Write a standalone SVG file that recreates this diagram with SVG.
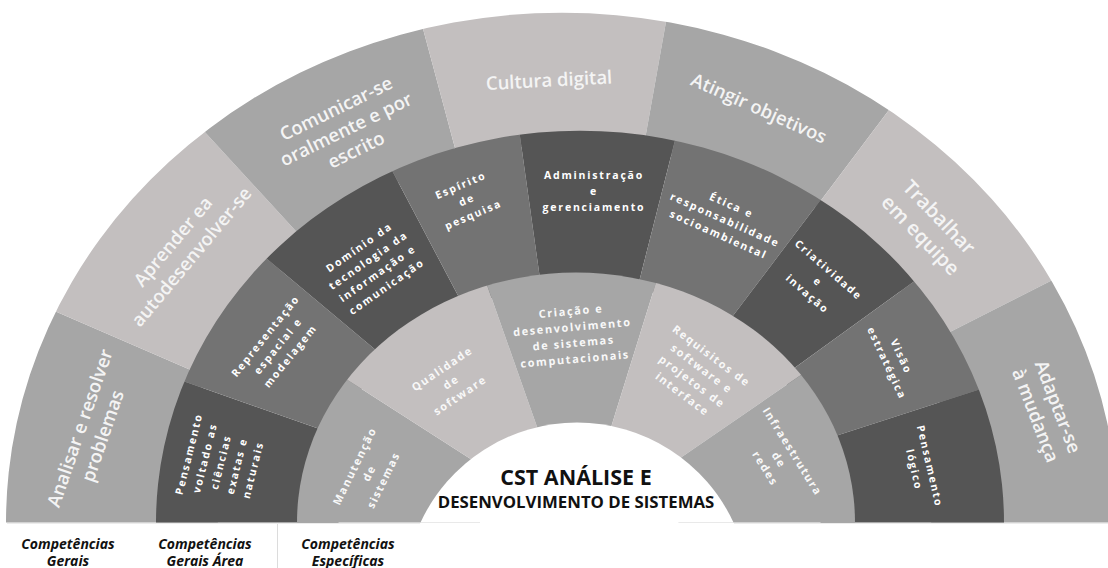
<svg xmlns="http://www.w3.org/2000/svg" width="1108" height="568" viewBox="0 0 1108 568">
<defs>
<style>
.med{fill:#a6a6a6}.lt{fill:#c3bfbf}.dk{fill:#555555}.md{fill:#737373}
.o{font-family:"Open Sans","Liberation Sans",sans-serif;font-weight:600;font-size:18.5px;fill:#f4f4f4;text-anchor:middle}
.m{font-family:"Open Sans","Liberation Sans",sans-serif;font-weight:700;font-size:10.5px;letter-spacing:1.8px;fill:#ffffff;text-anchor:middle}
.i{font-family:"Open Sans","Liberation Sans",sans-serif;font-weight:700;font-size:11px;letter-spacing:1.6px;fill:#f8f8f8;text-anchor:middle}
.c{font-family:"Open Sans","Liberation Sans",sans-serif;font-weight:700;fill:#111111;text-anchor:middle}
.b{font-family:"Open Sans","Liberation Sans",sans-serif;font-weight:700;font-style:italic;font-size:14px;fill:#111111;text-anchor:middle}
</style>
<clipPath id="e0"><path d="M6 522.5 A556 510 0 0 1 1118 522.5 Z"/></clipPath>
<clipPath id="e1"><path d="M156 522.5 A424 392 0 0 1 1004 522.5 Z"/></clipPath>
<clipPath id="e2"><path d="M297 522.5 A279 250 0 0 1 855 522.5 Z"/></clipPath>
</defs>

<g id="outer-ring">
<g id="analisar"><polygon class="med" clip-path="url(#e0)" points="200,374 -1,287 -40,250 -40,540 220,540"/>
<text class="o" transform="translate(91 432) rotate(-71)"><tspan x="0" y="-5.3">Analisar e resolver</tspan><tspan x="0" dy="24">problemas</tspan></text></g>
<g id="aprender"><polygon class="lt" clip-path="url(#e0)" points="200,374 -1,287 169,93 304,240"/>
<text class="o" transform="translate(182 249) rotate(-50)"><tspan x="0" y="-5.3">Aprender ea</tspan><tspan x="0" dy="24">autodesenvolver-se</tspan></text></g>
<g id="comunicar"><polygon class="med" clip-path="url(#e0)" points="304,240 169,93 411,-16 455,148"/>
<text class="o" transform="translate(346 129) rotate(-26)"><tspan x="0" y="-16.3">Comunicar-se</tspan><tspan x="0" dy="23">oralmente e por</tspan><tspan x="0" dy="23">escrito</tspan></text></g>
<g id="cultura"><polygon class="lt" clip-path="url(#e0)" points="455,148 411,-16 674,-23 644,145"/>
<text class="o" transform="translate(549 80) rotate(-3)"><tspan x="0" y="6.7">Cultura digital</tspan></text></g>
<g id="atingir"><polygon class="med" clip-path="url(#e0)" points="644,145 674,-23 913,78 816,207"/>
<text class="o" transform="translate(759 108) rotate(24)"><tspan x="0" y="6.7">Atingir objetivos</tspan></text></g>
<g id="trabalhar"><polygon class="lt" clip-path="url(#e0)" points="816,207 913,78 1086,263 944,335"/>
<text class="o" style="font-size:20px" transform="translate(930 226) rotate(46)"><tspan x="0" y="-5.8">Trabalhar</tspan><tspan x="0" dy="26">em equipe</tspan></text></g>
<g id="adaptar"><polygon class="med" clip-path="url(#e0)" points="944,335 1086,263 1150,240 1150,540 930,540"/>
<text class="o" transform="translate(1047 411) rotate(69)"><tspan x="0" y="-5.3">Adaptar-se</tspan><tspan x="0" dy="24">à mudança</tspan></text></g>
</g>

<g id="middle-ring">
<g id="pensamento-ciencias"><polygon class="dk" clip-path="url(#e1)" points="331,433 153,370.5 100,380 100,540 340,540"/>
<text class="m" transform="translate(221 462) rotate(-76)"><tspan x="0" y="-29.4">Pensamento</tspan><tspan x="0" dy="16.5">voltado as</tspan><tspan x="0" dy="16.5">ciências</tspan><tspan x="0" dy="16.5">exatas e</tspan><tspan x="0" dy="16.5">naturais</tspan></text></g>
<g id="representacao"><polygon class="md" clip-path="url(#e1)" points="331,433 153,370.5 239,235.5 384,357"/>
<text class="m" transform="translate(278 346) rotate(-51)"><tspan x="0" y="-12.4">Representação</tspan><tspan x="0" dy="16">espacial e</tspan><tspan x="0" dy="16">modelagem</tspan></text></g>
<g id="dominio"><polygon class="dk" clip-path="url(#e1)" points="384,357 239,235.5 377,142 463,305"/>
<text class="m" transform="translate(373 267) rotate(-35)"><tspan x="0" y="-20.4">Domínio da</tspan><tspan x="0" dy="16">tecnologia da</tspan><tspan x="0" dy="16">informação e</tspan><tspan x="0" dy="16">comunicação</tspan></text></g>
<g id="espirito"><polygon class="md" clip-path="url(#e1)" points="463,305 377,142 515,101 541,286"/>
<text class="m" transform="translate(467 200) rotate(-23)"><tspan x="0" y="-12.4">Espírito</tspan><tspan x="0" dy="16">de</tspan><tspan x="0" dy="16">pesquisa</tspan></text></g>
<g id="administracao"><polygon class="dk" clip-path="url(#e1)" points="541,286 515,101 683.5,107 638,286"/>
<text class="m" transform="translate(594 191)"><tspan x="0" y="-12.4">Administração</tspan><tspan x="0" dy="16">e</tspan><tspan x="0" dy="16">gerenciamento</tspan></text></g>
<g id="etica"><polygon class="md" clip-path="url(#e1)" points="638,286 683.5,107 844,169 726,325"/>
<text class="m" transform="translate(725 220) rotate(24)"><tspan x="0" y="-12.4">Ética e</tspan><tspan x="0" dy="16">responsabilidade</tspan><tspan x="0" dy="16">socioambiental</tspan></text></g>
<g id="criatividade"><polygon class="dk" clip-path="url(#e1)" points="726,325 844,169 943,260.5 782,377"/>
<text class="m" transform="translate(818 282) rotate(41)"><tspan x="0" y="-12.4">Criatividade</tspan><tspan x="0" dy="16">e</tspan><tspan x="0" dy="16">invação</tspan></text></g>
<g id="visao"><polygon class="md" clip-path="url(#e1)" points="782,377 943,260.5 1012,379 823,440"/>
<text class="m" transform="translate(894 360) rotate(65)"><tspan x="0" y="-4.4">Visão</tspan><tspan x="0" dy="16">estratégica</tspan></text></g>
<g id="pensamento-logico"><polygon class="dk" clip-path="url(#e1)" points="823,440 1012,379 1060,380 1060,540 820,540"/>
<text class="m" transform="translate(922 468) rotate(77)"><tspan x="0" y="-4.4">Pensamento</tspan><tspan x="0" dy="16">lógico</tspan></text></g>
</g>

<g id="inner-ring">
<g id="manutencao"><polygon class="med" clip-path="url(#e2)" points="480,465 318,361 280,360 280,540 480,540"/>
<text class="i" transform="translate(369 473) rotate(-64)"><tspan x="0" y="-12">Manutenção</tspan><tspan x="0" dy="16">de</tspan><tspan x="0" dy="16">sistemas</tspan></text></g>
<g id="qualidade"><polygon class="lt" clip-path="url(#e2)" points="480,465 318,361 474.5,249.5 542,441"/>
<text class="i" transform="translate(451 382) rotate(-34)"><tspan x="0" y="-12">Qualidade</tspan><tspan x="0" dy="16">de</tspan><tspan x="0" dy="16">software</tspan></text></g>
<g id="criacao"><polygon class="med" clip-path="url(#e2)" points="542,441 474.5,249.5 666,250.5 608,437"/>
<text class="i" transform="translate(573 335) rotate(-5)"><tspan x="0" y="-20">Criação e</tspan><tspan x="0" dy="16">desenvolvimento</tspan><tspan x="0" dy="16">de sistemas</tspan><tspan x="0" dy="16">computacionais</tspan></text></g>
<g id="requisitos"><polygon class="lt" clip-path="url(#e2)" points="608,437 666,250.5 826.5,357.5 673,463"/>
<text class="i" transform="translate(697 375) rotate(37)"><tspan x="0" y="-20">Requisitos de</tspan><tspan x="0" dy="16">software e</tspan><tspan x="0" dy="16">projetos de</tspan><tspan x="0" dy="16">interface</tspan></text></g>
<g id="infraestrutura"><polygon class="med" clip-path="url(#e2)" points="673,463 826.5,357.5 870,360 870,540 680,540"/>
<text class="i" transform="translate(779 460) rotate(58)"><tspan x="0" y="-12">Infraestrutura</tspan><tspan x="0" dy="16">de</tspan><tspan x="0" dy="16">redes</tspan></text></g>
</g>

<g id="center">
<path d="M420.5 522.5 A172.5 172.5 0 0 1 733.5 522.5 Z" fill="#ffffff"/>
<text class="c" x="576" y="485" style="font-size:21.5px">CST ANÁLISE E</text>
<text class="c" x="576" y="508" style="font-size:16.8px">DESENVOLVIMENTO DE SISTEMAS</text>
</g>

<g id="guides" stroke-width="1" fill="none">
<line x1="7" y1="523.5" x2="420" y2="523.5" stroke="#ececec"/>
<line x1="734" y1="523.5" x2="1108" y2="523.5" stroke="#ececec"/>
<line x1="277.5" y1="524" x2="277.5" y2="568" stroke="#dcdcdc"/>
</g>

<g id="legend">
<text class="b" x="68" y="549"><tspan x="68">Competências</tspan><tspan x="68" y="566">Gerais</tspan></text>
<text class="b" x="205" y="549"><tspan x="205">Competências</tspan><tspan x="205" y="566">Gerais Área</tspan></text>
<text class="b" x="348" y="549"><tspan x="348">Competências</tspan><tspan x="348" y="566">Específicas</tspan></text>
</g>
</svg>
